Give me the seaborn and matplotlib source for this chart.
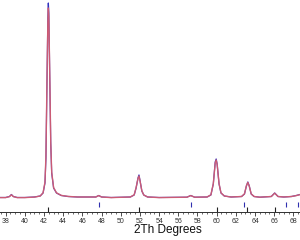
import numpy as np
import pandas as pd
import matplotlib
matplotlib.use("Agg")
import matplotlib.pyplot as plt
import seaborn as sns

# 2theta positions (degrees)
two_theta = [37.41, 38.0, 38.4, 38.6, 38.8, 39.2, 40.0, 41.0, 41.6, 41.9, 42.1, 42.2, 42.3,
             42.4, 42.45, 42.5, 42.6, 42.7, 42.8, 43.0, 43.3, 43.8, 44.5, 45.5, 47.4, 47.7,
             48.0, 49.0, 51.0, 51.4, 51.6, 51.8, 51.9, 52.0, 52.2, 52.4, 52.8, 54.0, 56.9,
             57.3, 57.7, 59.0, 59.4, 59.65, 59.85, 59.95, 60.05, 60.25, 60.45, 60.8, 61.5,
             62.6, 62.9, 63.1, 63.25, 63.4, 63.6, 63.9, 64.5, 65.7, 66.05, 66.4, 67.0, 67.8,
             68.3, 68.69]
# observed intensity (counts)
observed = [425, 425, 475, 575, 475, 425, 425, 450, 500, 650, 1150, 2400, 5900,
            9400, 10150, 9650, 6400, 3150, 1650, 900, 650, 525, 475, 450, 450, 525,
            450, 425, 450, 550, 900, 1400, 1550, 1300, 750, 550, 450, 425, 440,
            525, 440, 450, 550, 1100, 2200, 2350, 2100, 1100, 650, 500, 450,
            475, 600, 1000, 1200, 1000, 600, 475, 440, 475, 650, 475, 450, 475,
            525, 575]
# calculated intensity (counts)
calculated = [420, 420, 470, 560, 470, 420, 420, 445, 500, 660, 1200, 2500, 6000,
              9200, 9900, 9500, 6500, 3200, 1700, 920, 660, 530, 480, 450, 450, 520,
              450, 420, 450, 560, 920, 1380, 1500, 1280, 760, 550, 450, 420, 440,
              520, 440, 450, 560, 1120, 2150, 2300, 2080, 1120, 660, 500, 450,
              475, 610, 1010, 1180, 990, 610, 475, 440, 475, 640, 475, 450, 475,
              520, 570]

# reflection markers
phase1_pos = [42.4, 51.9, 60.0, 63.2, 66.1]
phase2_pos = [47.7, 57.3, 62.9, 67.2, 68.5]

major_ticks = list(range(38, 69, 2))

sns.set_theme(style="white")
plt.rcParams['font.family'] = ['Liberation Sans', 'DejaVu Sans']

fig = plt.figure(figsize=(3.0, 2.4), dpi=100)
ax = fig.add_axes([0.0, 28 / 240, 1.0, 212 / 240])

df = pd.DataFrame({"2Th": two_theta, "obs": observed, "calc": calculated})
sns.lineplot(data=df, x="2Th", y="obs", ax=ax, color="#3030c0", linewidth=0.9)
sns.lineplot(data=df, x="2Th", y="calc", ax=ax, color="#e0606a", linewidth=1.0, alpha=0.88)

ax.vlines(phase2_pos, -50, 200, color="#3030b0", linewidth=0.8)
ax.vlines(phase1_pos, -300, -50, color="#202020", linewidth=0.8)

ax.set_xlim(37.41, 68.69)
ax.set_ylim(-300, 10300)
ax.set_xticks(major_ticks)
ax.set_xticks(np.arange(37.5, 68.7, 0.5), minor=True)
ax.set_xticklabels([str(t) for t in major_ticks], fontsize=5, color="#303030")
ax.tick_params(axis="x", which="major", direction="out", length=3, width=0.6, pad=1.5,
               bottom=True, color="#303030")
ax.tick_params(axis="x", which="minor", direction="out", length=1.5, width=0.5,
               bottom=True, color="#303030")
ax.set_yticks([])
ax.set_xlabel("")
ax.set_ylabel("")
for s in ["top", "left", "right"]:
    ax.spines[s].set_visible(False)
ax.spines["bottom"].set_color("#303030")
ax.spines["bottom"].set_linewidth(0.7)

fig.text(168 / 300, 1 - 230 / 240, "2Th Degrees", ha="center", va="center", fontsize=8.5,
         color="#101010")

fig.savefig("out.png", dpi=100, facecolor="white")
